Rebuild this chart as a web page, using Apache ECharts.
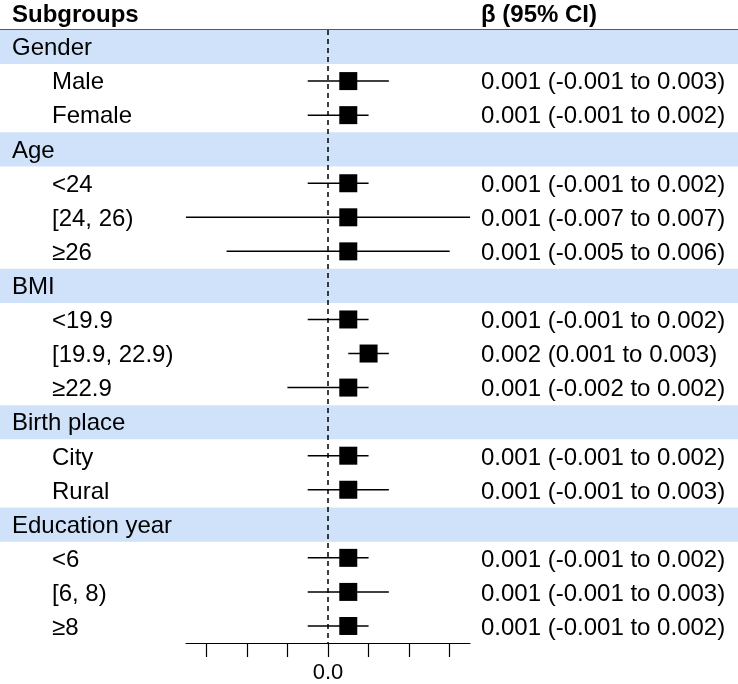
<!DOCTYPE html>
<html>
<head>
<meta charset="utf-8">
<script src="https://cdn.jsdelivr.net/npm/echarts@6/dist/echarts.min.js"></script>
<style>html,body{margin:0;padding:0;background:#fff}#c{width:738px;height:684px}</style>
</head>
<body>
<div id="c"></div>
<script>
var rowLabels = ['Gender','Male','Female','Age','<24','[24, 26)','≥26','BMI','<19.9','[19.9, 22.9)','≥22.9','Birth place','City','Rural','Education year','<6','[6, 8)','≥8'];
var isGroup = [1,0,0,1,0,0,0,1,0,0,0,1,0,0,1,0,0,0];
var beta  = [null,0.001,0.001,null,0.001,0.001,0.001,null,0.001,0.002,0.001,null,0.001,0.001,null,0.001,0.001,0.001];
var lower = [null,-0.001,-0.001,null,-0.001,-0.007,-0.005,null,-0.001,0.001,-0.002,null,-0.001,-0.001,null,-0.001,-0.001,-0.001];
var upper = [null,0.003,0.002,null,0.002,0.007,0.006,null,0.002,0.003,0.002,null,0.002,0.003,null,0.002,0.003,0.002];
var ciText = ['','0.001 (-0.001 to 0.003)','0.001 (-0.001 to 0.002)','','0.001 (-0.001 to 0.002)','0.001 (-0.007 to 0.007)','0.001 (-0.005 to 0.006)','','0.001 (-0.001 to 0.002)','0.002 (0.001 to 0.003)','0.001 (-0.002 to 0.002)','','0.001 (-0.001 to 0.002)','0.001 (-0.001 to 0.003)','','0.001 (-0.001 to 0.002)','0.001 (-0.001 to 0.003)','0.001 (-0.001 to 0.002)'];
var xTicks = [-0.006,-0.004,-0.002,0,0.002,0.004,0.006];
var xLabels = [0];
var xMin = -0.007, xMax = 0.007;

var FONT = '"Liberation Sans", Arial, sans-serif';
var BAND = '#cfe2fa';
var TOP = 30, BOTTOM = 40;
var FS = 24;
var RIGHT_COL = 481;

var bandData = isGroup.map(function(g){ return g ? 1 : '-'; });
var ciData = [];
for (var i = 0; i < rowLabels.length; i++) {
  if (beta[i] !== null) ciData.push([beta[i], i, lower[i], upper[i]]);
}

var chart = echarts.init(document.getElementById('c'), null, {renderer:'canvas'});
chart.setOption({
  animation: false,
  textStyle: {fontFamily: FONT},
  title: [
    {text: 'Subgroups', left: 12, top: 3, padding: 0, textStyle: {fontFamily: FONT, fontSize: FS, fontWeight: 'bold', color: '#000'}},
    {text: 'β (95% CI)', left: RIGHT_COL, top: 3, padding: 0, textStyle: {fontFamily: FONT, fontSize: FS, fontWeight: 'bold', color: '#000'}}
  ],
  grid: [
    {left: 0, right: 0, top: TOP, bottom: BOTTOM},
    {left: 186, right: 268, top: TOP, bottom: BOTTOM},
    {left: RIGHT_COL, right: 0, top: TOP, bottom: BOTTOM}
  ],
  xAxis: [
    {gridIndex: 0, type: 'value', min: 0, max: 1, position: 'top',
     axisLine: {show: true, onZero: false, lineStyle: {color: '#222', width: 1.5}},
     axisTick: {show: false}, axisLabel: {show: false}, splitLine: {show: false}},
    {gridIndex: 1, type: 'value', min: xMin, max: xMax, position: 'bottom',
     axisLine: {show: true, onZero: false, lineStyle: {color: '#000', width: 1.2}},
     axisTick: {show: true, length: 14, inside: false, customValues: xTicks, lineStyle: {color: '#000', width: 1.2}},
     axisLabel: {show: true, customValues: xLabels, margin: 19, fontSize: 22, color: '#000', fontFamily: FONT,
                 formatter: function(v){ return Math.abs(v) < 1e-12 ? '0.0' : String(v); }},
     splitLine: {show: false}},
    {gridIndex: 2, type: 'value', min: 0, max: 1, show: false}
  ],
  yAxis: [
    {gridIndex: 0, type: 'category', data: rowLabels, inverse: true, z: 5,
     axisLine: {show: false}, axisTick: {show: false}, splitLine: {show: false},
     axisLabel: {inside: true, margin: 12, interval: 0, color: '#000', fontSize: FS, fontFamily: FONT,
       formatter: function(v, i){ return isGroup[i] ? '{g|' + v + '}' : '{s|' + v + '}'; },
       rich: {g: {fontSize: FS, fontFamily: FONT, color: '#000', padding: [3,0,0,0]},
              s: {fontSize: FS, fontFamily: FONT, color: '#000', padding: [3,0,0,40]}}}},
    {gridIndex: 1, type: 'category', data: rowLabels, inverse: true, show: false},
    {gridIndex: 2, type: 'category', data: ciText, inverse: true, z: 5,
     axisLine: {show: false}, axisTick: {show: false}, splitLine: {show: false},
     axisLabel: {inside: true, margin: 0, interval: 0, color: '#000', fontSize: FS, fontFamily: FONT,
       formatter: function(v){ return v ? '{t|' + v + '}' : ''; },
       rich: {t: {fontSize: FS, fontFamily: FONT, color: '#000', padding: [3,0,0,0]}}}}
  ],
  series: [
    {type: 'bar', xAxisIndex: 0, yAxisIndex: 0, data: bandData, barWidth: '100%', z: 1, silent: true,
     itemStyle: {color: BAND}},
    {type: 'custom', xAxisIndex: 1, yAxisIndex: 1, data: ciData, z: 3, silent: true,
     encode: {x: [0, 2, 3], y: 1},
     renderItem: function(params, api){
       var y = api.value(1);
       var p1 = api.coord([api.value(2), y]);
       var p2 = api.coord([api.value(3), y]);
       return {type: 'line', shape: {x1: p1[0], y1: p1[1], x2: p2[0], y2: p2[1]},
               style: {stroke: '#000', lineWidth: 1.5}};
     }},
    {type: 'scatter', xAxisIndex: 1, yAxisIndex: 1, z: 4, silent: true,
     data: ciData.map(function(d){ return [d[0], d[1]]; }),
     symbol: 'rect', symbolSize: 18, itemStyle: {color: '#000', opacity: 1},
     markLine: {silent: true, symbol: 'none', label: {show: false},
       lineStyle: {color: '#000', type: [5, 4], width: 1.5},
       data: [{xAxis: 0}]}}
  ]
});
</script>
</body>
</html>
